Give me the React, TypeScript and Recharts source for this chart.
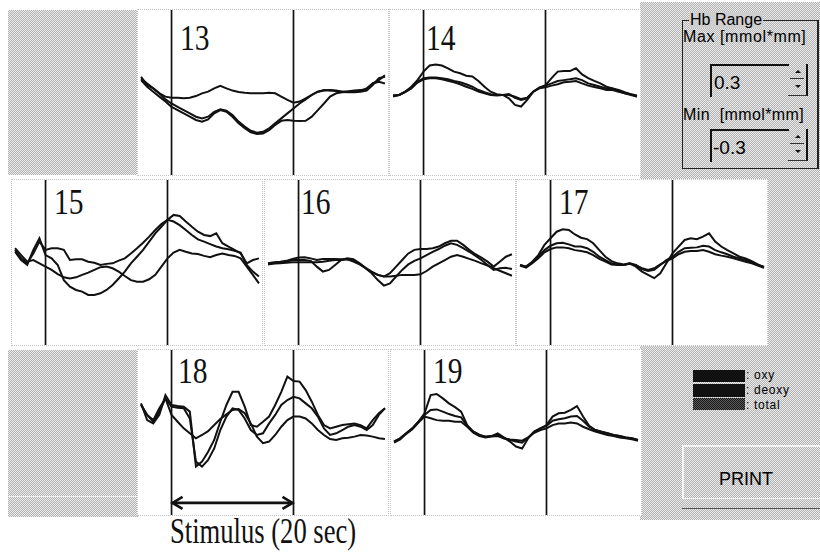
import React from "react";
import { LineChart, Line, XAxis, YAxis, ReferenceLine } from "recharts";

// time, seconds from stimulus onset
const seconds = [
  -5, -4, -3, -2, -1, 0, 1, 2, 3, 4, 5, 6, 7, 8, 9, 10, 11, 12, 13, 14, 15, 16, 17, 18, 19, 20,
  21, 22, 23, 24, 25, 26, 27, 28, 29, 30, 31, 32, 33, 34, 35,
];
const stimulus = [0, 20];
const hbRange = [-300, 300]; // µmol*mm  (= ±0.3 mmol*mm)
const arrowLevel = -256;

// Hb changes per channel, µmol*mm
const ch13Oxy = [57, 27, 15, -3, -15, -19, -19, -21, -19, -13, -3, 3, 15, 24, 15, 7, 2, -1, -3, -3, -3, -1, -3, -15, -27, -37, -33, -21, -9, 3, 9, 7, 5, 3, 1, 1, 3, 7, 27, 52, 57];
const ch13Total = [51, 33, 15, -3, -25, -40, -52, -64, -76, -88, -94, -88, -70, -61, -66, -82, -106, -124, -139, -146, -143, -130, -112, -94, -76, -58, -40, -25, -9, 3, 7, 9, 7, 3, 5, 7, 9, 11, 33, 45, 63];
const ch13Deoxy = [45, 21, 3, -15, -33, -52, -64, -76, -88, -100, -106, -98, -76, -64, -70, -88, -112, -130, -145, -151, -149, -137, -118, -103, -100, -103, -104, -103, -88, -64, -40, -15, -3, 1, 2, 4, 7, 15, 33, 39, 33];

const ch14Oxy = [-11, -9, 3, 21, 45, 76, 98, 102, 98, 88, 76, 70, 61, 58, 42, 21, 3, -6, -9, -21, -45, -51, -27, 3, 18, 27, 52, 76, 78, 78, 88, 66, 52, 42, 33, 21, 15, 5, -3, -6, -15];
const ch14Total = [-11, -9, 3, 18, 39, 52, 55, 55, 52, 48, 42, 37, 30, 21, 9, 1, -6, -9, -9, -6, -19, -27, -21, 3, 18, 25, 33, 42, 45, 48, 52, 45, 33, 27, 21, 15, 15, 9, 1, -6, -11];
const ch14Deoxy = [-15, -9, 1, 15, 36, 48, 52, 52, 48, 43, 37, 30, 21, 13, 3, -3, -9, -11, -9, -9, -15, -24, -19, 3, 15, 19, 25, 30, 37, 39, 42, 33, 25, 20, 15, 9, 9, 3, -3, -9, -15];

const ch15Oxy = [46, 15, -3, 33, 76, 46, 52, 52, 46, 9, 12, 12, 3, -1, -9, -5, -3, 7, 15, 33, 52, 72, 94, 118, 140, 155, 173, 169, 149, 130, 112, 100, 96, 106, 70, 58, 46, 33, -3, 9, 15];
const ch15Total = [39, 9, -9, 46, 88, 27, 15, -9, -64, -88, -100, -106, -118, -118, -112, -100, -82, -58, -33, -3, 21, 46, 76, 106, 130, 155, 149, 136, 118, 100, 84, 76, 67, 58, 52, 48, 43, 36, -9, -33, -51];
const ch15Deoxy = [52, 27, 3, 9, -3, -15, -27, -42, -54, -58, -54, -45, -37, -27, -17, -15, -21, -33, -49, -64, -70, -70, -61, -45, -15, 15, 36, 46, 39, 33, 31, 24, 19, 27, 33, 27, 24, 15, -15, -45, -76];

const ch16Oxy = [-3, 1, 3, 6, 13, 18, 19, 15, 9, 13, 13, 13, 12, 12, 3, -7, -21, -36, -45, -51, -39, -15, 9, 33, 46, 49, 49, 52, 58, 70, 79, 79, 64, 46, 30, 18, 3, -15, 3, 21, 30];
const ch16Total = [-3, -3, 1, 3, 9, 9, 9, 6, -15, -33, -27, -9, 9, 15, 12, -3, -21, -39, -64, -84, -76, -51, -27, -7, 6, 15, 27, 39, 49, 61, 70, 64, 52, 39, 25, 9, -9, -27, -21, -19, -24];
const ch16Deoxy = [-7, -4, -3, -1, 1, 1, 1, 1, 1, 3, 6, 9, 9, 12, 9, -3, -19, -33, -45, -51, -51, -48, -45, -45, -45, -43, -31, -15, -3, 9, 21, 27, 21, 13, 6, -3, -11, -21, -30, -39, -48];

const ch17Oxy = [-9, -15, 3, 27, 64, 88, 112, 121, 118, 102, 90, 85, 70, 45, 21, 5, -3, -7, -3, -15, -33, -45, -57, -39, -3, 33, 58, 82, 88, 85, 94, 106, 76, 58, 45, 33, 21, 15, 5, -7, -19];
const ch17Total = [-9, -15, 1, 21, 45, 61, 70, 72, 66, 58, 58, 52, 39, 21, 9, -3, -7, -9, -3, -9, -24, -31, -27, -9, 9, 21, 39, 52, 54, 55, 61, 58, 45, 37, 30, 21, 15, 9, 1, -9, -15];
const ch17Deoxy = [-11, -19, -3, 15, 37, 49, 55, 55, 52, 45, 42, 37, 27, 13, 3, -7, -9, -9, -5, -11, -21, -27, -21, -7, 5, 15, 30, 39, 42, 42, 45, 39, 30, 25, 21, 15, 9, 3, -3, -11, -19];

const ch18Oxy = [106, 45, 33, 64, 136, 100, 96, 94, 76, -124, -106, -70, -27, 39, 100, 148, 148, 94, 27, 21, 39, 58, 100, 148, 203, 187, 185, 154, 112, 64, 27, 15, 21, 27, 30, 33, 27, 15, 45, 70, 88];
const ch18Total = [100, 64, 39, 76, 124, 94, 90, 88, 51, -106, -124, -100, -58, 9, 58, 88, 82, 51, 9, -9, -3, 33, 64, 100, 118, 130, 124, 106, 88, 58, 15, -9, -3, 9, 21, 27, 21, 9, 27, 64, 88];
const ch18Deoxy = [102, 64, 45, 88, 124, 64, 39, 15, -3, -21, -9, 5, 27, 49, 66, 82, 85, 70, 33, -15, -39, -33, -9, 21, 45, 58, 58, 51, 33, 9, -9, -24, -27, -21, -19, -15, -9, -11, -15, -21, -24];

const ch19Oxy = [-33, -21, -3, 15, 39, 70, 136, 140, 124, 106, 92, 76, 27, 3, -9, -15, -13, -3, -18, -33, -51, -58, -21, 3, 15, 27, 58, 70, 72, 82, 96, 58, 24, 9, 3, -3, -9, -13, -18, -21, -27];
const ch19Total = [-33, -21, -3, 15, 39, 64, 82, 84, 76, 67, 60, 55, 24, 3, -9, -15, -13, -9, -21, -27, -33, -37, -18, 3, 15, 24, 43, 48, 52, 58, 60, 43, 21, 9, 3, -3, -9, -13, -18, -21, -27];
const ch19Deoxy = [-37, -25, -5, 12, 36, 58, 52, 45, 43, 43, 39, 39, 21, -1, -13, -18, -15, -13, -21, -25, -27, -30, -18, -1, 9, 15, 27, 33, 33, 36, 33, 21, 12, 3, -3, -9, -13, -18, -21, -25, -30];

const ink = "#111";
const dither = "repeating-conic-gradient(#b2b2b2 0% 25%, #ebebeb 0% 50%) 0 0 / 2px 2px";
const darkDither = "repeating-conic-gradient(#1a1a1a 0% 25%, #5a5a5a 0% 50%) 0 0 / 2px 2px";
const serif = "'Liberation Serif', 'Times New Roman', serif";
const sans = "'Liberation Sans', Arial, sans-serif";

const PW = 250;
const PH = 165;

const ArrowShape = (props: any) => {
  const { x1, y1, x2, y2 } = props;
  return (
    <g stroke={ink} strokeWidth={2.6} fill="none">
      <line x1={x1 + 1} y1={y1} x2={x2 - 1} y2={y2} />
      <polyline points={`${x1 + 11},${y1 - 6} ${x1 + 1},${y1} ${x1 + 11},${y1 + 6}`} />
      <polyline points={`${x2 - 11},${y2 - 6} ${x2 - 1},${y2} ${x2 - 11},${y2 + 6}`} />
    </g>
  );
};

interface ChannelProps {
  label: string;
  left: number;
  top: number;
  labelX: number;
  labelY: number;
  oxy: number[];
  deoxy: number[];
  total: number[];
  arrow?: boolean;
}

const Channel: React.FC<ChannelProps> = ({ label, left, top, labelX, labelY, oxy, deoxy, total, arrow }) => {
  const data = seconds.map((t, i) => ({ t, oxy: oxy[i], deoxy: deoxy[i], total: total[i] }));
  return (
    <div
      style={{
        position: "absolute",
        left: left - 1,
        top: top - 1,
        width: PW,
        height: PH,
        background: "#fff",
        border: "1px dotted #c4c4c4",
      }}
    >
      <LineChart width={PW} height={PH} data={data} margin={{ top: 0, right: 0, bottom: 0, left: 0 }}>
        <XAxis dataKey="t" type="number" domain={[-5.5, 35.5]} hide />
        <YAxis type="number" domain={hbRange} hide allowDataOverflow />
        {stimulus.map((s) => (
          <ReferenceLine key={s} x={s} stroke={ink} strokeWidth={1.7} />
        ))}
        <Line type="linear" dataKey="deoxy" stroke={ink} strokeWidth={2} dot={false} isAnimationActive={false} />
        <Line type="linear" dataKey="total" stroke={ink} strokeWidth={2} dot={false} isAnimationActive={false} />
        <Line type="linear" dataKey="oxy" stroke={ink} strokeWidth={2} dot={false} isAnimationActive={false} />
        {arrow && (
          <ReferenceLine
            segment={[
              { x: stimulus[0], y: arrowLevel },
              { x: stimulus[1], y: arrowLevel },
            ]}
            shape={ArrowShape}
          />
        )}
      </LineChart>
      <div
        style={{
          position: "absolute",
          left: labelX,
          top: labelY,
          fontFamily: serif,
          fontSize: 36,
          lineHeight: "36px",
          color: ink,
          transform: "scaleX(0.82)",
          transformOrigin: "left top",
        }}
      >
        {label}
      </div>
    </div>
  );
};

const Spinner: React.FC<{ top: number }> = ({ top }) => (
  <div style={{ position: "absolute", left: 788, top, width: 18, height: 31, borderRight: "2px solid #111", borderBottom: "1px solid #333" }}>
    <div style={{ position: "absolute", left: 2, top: 1, width: 14, height: 13, borderBottom: "1px solid #333" }}>
      <div style={{ position: "absolute", left: 5, top: 5, width: 0, height: 0, borderLeft: "3px solid transparent", borderRight: "3px solid transparent", borderBottom: "3px solid #111" }} />
    </div>
    <div style={{ position: "absolute", left: 2, top: 16, width: 14, height: 13 }}>
      <div style={{ position: "absolute", left: 5, top: 5, width: 0, height: 0, borderLeft: "3px solid transparent", borderRight: "3px solid transparent", borderTop: "3px solid #111" }} />
    </div>
  </div>
);

export default function App() {
  const text = (left: number, top: number, size: number, content: string, extra: React.CSSProperties = {}) => (
    <div
      style={{
        position: "absolute",
        left,
        top,
        fontFamily: sans,
        fontSize: size,
        lineHeight: `${size}px`,
        color: "#000",
        whiteSpace: "pre",
        ...extra,
      }}
    >
      {content}
    </div>
  );

  return (
    <div
      style={{
        position: "absolute",
        left: 0,
        top: 0,
        width: 820,
        height: 554,
        background: "#fff",
        overflow: "hidden",
      }}
    >
      {/* window background */}
      <div style={{ position: "absolute", left: 8, top: 10, width: 130, height: 165, background: dither }} />
      <div style={{ position: "absolute", left: 8, top: 350, width: 131, height: 167, background: dither }} />
      <div style={{ position: "absolute", left: 8, top: 496, width: 131, height: 1, background: "#f2f2f2" }} />
      <div style={{ position: "absolute", left: 640, top: 2, width: 180, height: 518, background: dither }} />

      <Channel label="13" left={138} top={10} labelX={42} labelY={10} oxy={ch13Oxy} total={ch13Total} deoxy={ch13Deoxy} />
      <Channel label="14" left={390} top={10} labelX={36} labelY={10} oxy={ch14Oxy} total={ch14Total} deoxy={ch14Deoxy} />
      <Channel label="15" left={12} top={180} labelX={42} labelY={4} oxy={ch15Oxy} total={ch15Total} deoxy={ch15Deoxy} />
      <Channel label="16" left={265} top={180} labelX={36} labelY={4} oxy={ch16Oxy} total={ch16Total} deoxy={ch16Deoxy} />
      <Channel label="17" left={517} top={180} labelX={42} labelY={4} oxy={ch17Oxy} total={ch17Total} deoxy={ch17Deoxy} />
      <Channel label="18" left={138} top={350} labelX={40} labelY={3} oxy={ch18Oxy} total={ch18Total} deoxy={ch18Deoxy} arrow />
      <Channel label="19" left={391} top={350} labelX={42} labelY={3} oxy={ch19Oxy} total={ch19Total} deoxy={ch19Deoxy} />

      {/* Hb Range group */}
      <div style={{ position: "absolute", left: 682, top: 20, width: 134, height: 147, border: "1px solid #222", borderRight: "2px solid #222" }} />
      {text(689, 12, 16, "Hb Range", { background: "#cfcfcf", padding: "0 1px" })}
      {text(683, 29, 16, "Max [mmol*mm]", { letterSpacing: "0.6px" })}
      <div style={{ position: "absolute", left: 710, top: 64, width: 77, height: 31, borderTop: "2px solid #111", borderLeft: "2px solid #111" }} />
      {text(714, 73, 19, "0.3")}
      <Spinner top={64} />
      {text(683, 107, 16, "Min  [mmol*mm]", { letterSpacing: "0.4px" })}
      <div style={{ position: "absolute", left: 710, top: 129, width: 77, height: 31, borderTop: "2px solid #111", borderLeft: "2px solid #111" }} />
      {text(713, 138, 19, "-0.3")}
      <Spinner top={129} />

      {/* legend */}
      <div style={{ position: "absolute", left: 693, top: 370, width: 52, height: 12, background: ink }} />
      <div style={{ position: "absolute", left: 693, top: 384, width: 52, height: 13, background: ink }} />
      <div style={{ position: "absolute", left: 693, top: 398, width: 52, height: 12, background: darkDither }} />
      {text(746, 369, 12, ": oxy", { letterSpacing: "0.7px" })}
      {text(746, 384, 12, ": deoxy", { letterSpacing: "0.7px" })}
      {text(746, 399, 12, ": total", { letterSpacing: "0.7px" })}

      {/* print button */}
      <div style={{ position: "absolute", left: 682, top: 445, width: 140, height: 51, borderTop: "2px solid #f4f4f4", borderLeft: "2px solid #f4f4f4", borderBottom: "1px solid #f4f4f4" }} />
      <div style={{ position: "absolute", left: 682, top: 508, width: 138, height: 1, background: "#555" }} />
      {text(719, 470, 18, "PRINT")}

      <div
        style={{
          position: "absolute",
          left: 170,
          top: 514,
          fontFamily: serif,
          fontSize: 35,
          lineHeight: "35px",
          color: ink,
          whiteSpace: "pre",
          transform: "scaleX(0.76)",
          transformOrigin: "left top",
        }}
      >
        Stimulus (20 sec)
      </div>
    </div>
  );
}
